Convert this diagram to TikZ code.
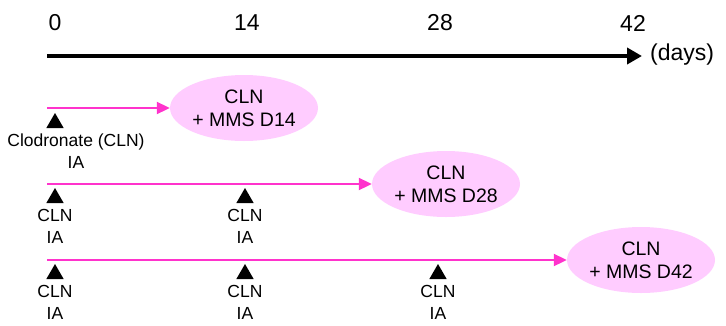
\documentclass[tikz,border=0pt]{standalone}
\usepackage{fontspec}
\setmainfont{Liberation Sans}
\usetikzlibrary{shapes.geometric, arrows.meta, positioning}
\definecolor{dosepink}{HTML}{FF33CC}
\definecolor{grouppink}{HTML}{FFCCFF}
\tikzstyle{timeline} = [line width=4.5pt, -{Triangle[length=15pt, width=16pt]}]
\tikzstyle{doseline} = [line width=2pt, draw=dosepink, -{Triangle[length=13pt, width=12pt]}]
\tikzstyle{group}    = [ellipse, fill=grouppink, minimum width=148pt, minimum height=66pt, inner sep=0pt, align=center, font=\fontsize{19.5}{23}\selectfont]
\tikzstyle{inject}   = [regular polygon, regular polygon sides=3, fill=black, minimum size=20pt, inner sep=0pt, outer sep=0pt, anchor=north]
\tikzstyle{injlabel} = [align=center, inner sep=0pt, font=\fontsize{17.5}{22}\selectfont]
\tikzstyle{daylabel} = [font=\fontsize{23}{26}\selectfont]

\begin{document}
\begin{tikzpicture}[x=1pt, y=-1pt]
    \useasboundingbox (0,0) rectangle (726,325);

        % Time axis
        \coordinate (ax0) at (47,56);
        \coordinate (ax1) at (642,56);
        \draw[timeline] (ax0) -- (ax1);

        \node[daylabel] (d0)  at (55,23)  {0};
        \node[daylabel] (d14) at (247,23) {14};
        \node[daylabel] (d28) at (440,23) {28};
        \node[daylabel] (d42) at (633,23) {42};
        \node[daylabel, anchor=west, inner sep=0pt] (unit) at (650,55) {(days)};

        % Group D14
        \coordinate (r1) at (47,108);
        \node[group] (g14) at (244,108) {CLN\\+ MMS D14};
        \draw[doseline] (r1) -- (g14);

        \node[inject] (t1a) at (55,113) {};
        \node[injlabel, below=6pt of t1a, xshift=21pt] (l1a) {Clodronate (CLN)\\IA};

        % Group D28
        \coordinate (r2) at (47,184);
        \node[group] (g28) at (446,184) {CLN\\+ MMS D28};
        \draw[doseline] (r2) -- (g28);

        \node[inject] (t2a) at (55,188) {};
        \node[inject] (t2b) at (245,188) {};
        \node[injlabel, below=6pt of t2a] (l2a) {CLN\\IA};
        \node[injlabel, below=6pt of t2b] (l2b) {CLN\\IA};

        % Group D42
        \coordinate (r3) at (47,260);
        \node[group] (g42) at (641,260) {CLN\\+ MMS D42};
        \draw[doseline] (r3) -- (g42);

        \node[inject] (t3a) at (55,264) {};
        \node[inject] (t3b) at (245,264) {};
        \node[inject] (t3c) at (438,264) {};
        \node[injlabel, below=6pt of t3a] (l3a) {CLN\\IA};
        \node[injlabel, below=6pt of t3b] (l3b) {CLN\\IA};
        \node[injlabel, below=6pt of t3c] (l3c) {CLN\\IA};

\end{tikzpicture}
\end{document}
